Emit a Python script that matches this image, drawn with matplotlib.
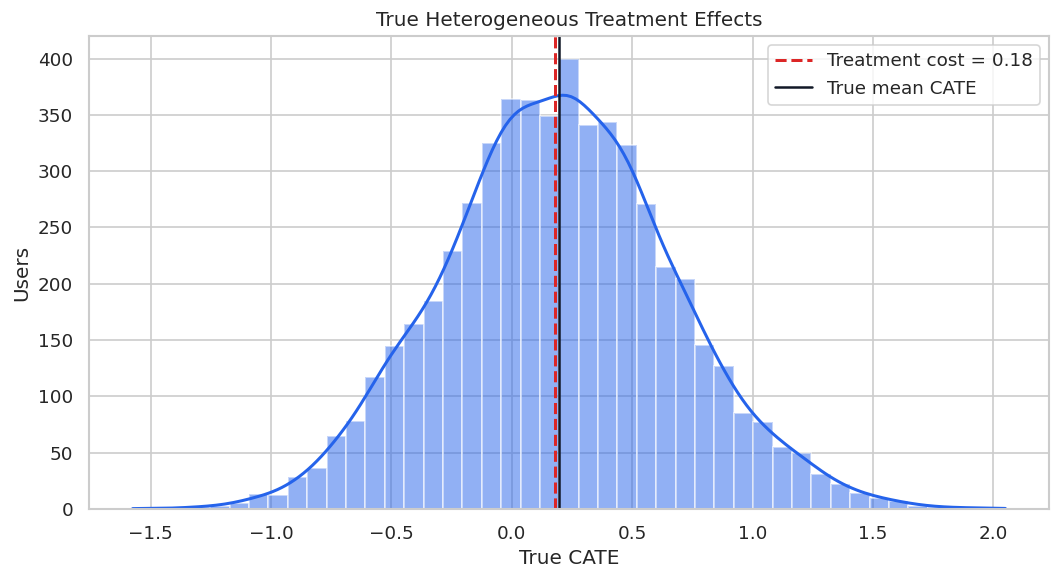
import numpy as np
import matplotlib
matplotlib.use("Agg")
import matplotlib.pyplot as plt
import seaborn as sns

# histogram: 45 equal bins
bin_lo = -1.575
bin_hi = 2.050
counts = [1, 0, 1, 2, 3, 5, 13, 12, 28, 36,
          65, 78, 117, 145, 164, 185, 229, 272, 325, 364,
          363, 349, 400, 341, 344, 323, 271, 215, 204, 146,
          127, 85, 77, 55, 50, 31, 22, 14, 10, 7,
          3, 2, 1, 1, 1]
treatment_cost = 0.18
true_mean_cate = 0.197

blue = "#2563eb"
red = "#dc2626"
dark = "#111827"

sns.set_theme(style="whitegrid")
plt.rcParams["font.family"] = ["DejaVu Sans"]

counts = np.array(counts, dtype=float)
edges = np.linspace(bin_lo, bin_hi, len(counts) + 1)
centers = (edges[:-1] + edges[1:]) / 2
width = edges[1] - edges[0]

# weighted gaussian kde of the binned data (scott bandwidth)
n = counts.sum()
mean = (centers * counts).sum() / n
std = np.sqrt(((centers - mean) ** 2 * counts).sum() / n)
bw = std * n ** (-1 / 5)
grid = np.linspace(bin_lo, bin_hi, 200)
dens = (counts[None, :] * np.exp(-0.5 * ((grid[:, None] - centers[None, :]) / bw) ** 2)).sum(1)
dens = dens / (n * bw * np.sqrt(2 * np.pi))
kde_y = dens * n * width

fig, ax = plt.subplots(figsize=(1060 / 120, 580 / 120), dpi=120)
fig.subplots_adjust(left=89 / 1060, right=1049 / 1060, top=1 - 36 / 580, bottom=1 - 509 / 580)

ax.bar(edges[:-1], counts, width=width, align="edge", color=blue, alpha=0.5,
       edgecolor="white", linewidth=1.2)
ax.plot(grid, kde_y, color=blue, linewidth=1.8)

ax.axvline(treatment_cost, color=red, linestyle="--", linewidth=1.8,
           label=f"Treatment cost = {treatment_cost:.2f}")
ax.axvline(true_mean_cate, color=dark, linestyle="-", linewidth=1.5,
           label="True mean CATE")

ax.set_xlim(bin_lo - 0.05 * (bin_hi - bin_lo), bin_hi + 0.05 * (bin_hi - bin_lo))
ax.set_ylim(0, counts.max() * 1.05)
ax.set_title("True Heterogeneous Treatment Effects")
ax.set_xlabel("True CATE")
ax.set_ylabel("Users")
ax.legend(loc="upper right")

fig.savefig("out.png", dpi=120)
